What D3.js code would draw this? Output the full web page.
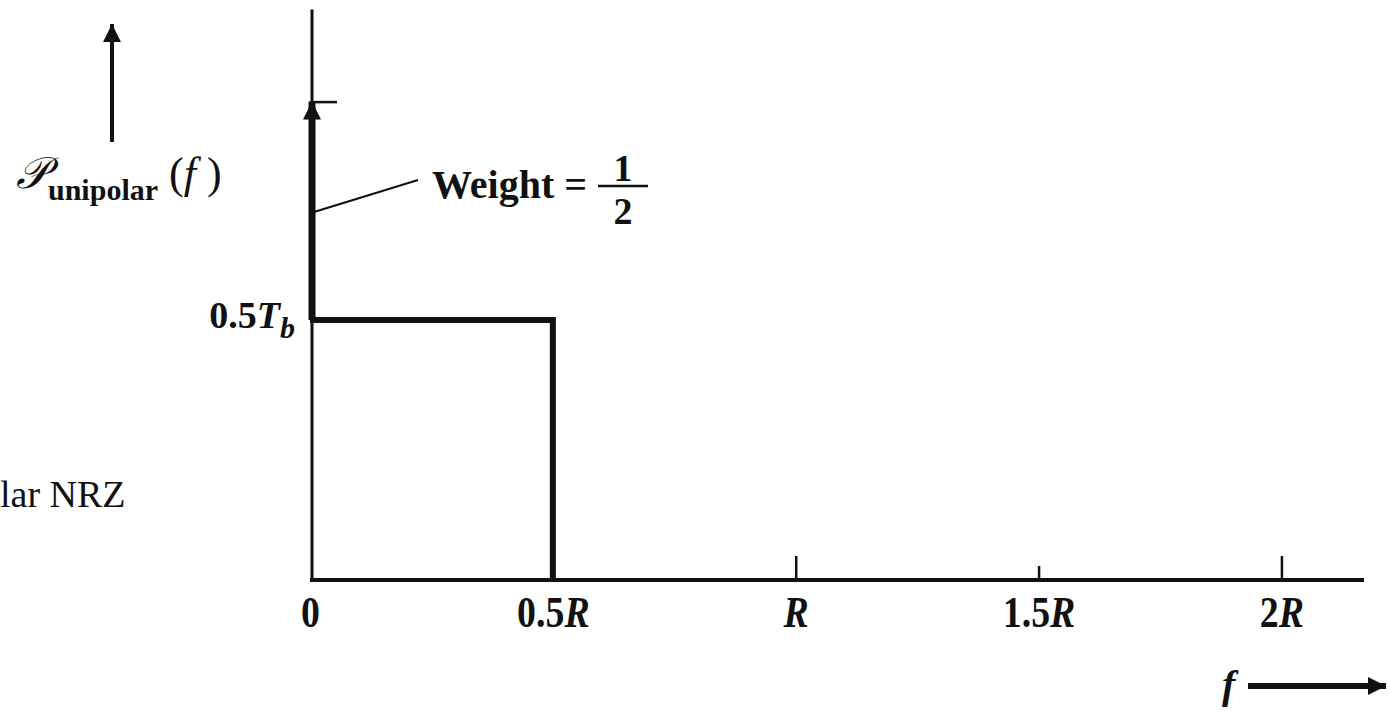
<!DOCTYPE html>
<html>
<head>
<meta charset="utf-8">
<script src="https://cdn.jsdelivr.net/npm/d3@7"></script>
<style>
  html, body { margin: 0; padding: 0; background: #fff; }
  svg { display: block; }
  text { font-family: "Liberation Serif", "DejaVu Serif", serif; fill: #111; }
</style>
</head>
<body>
<div id="chart"></div>
<script>
// Unipolar NRZ PSD sketch

// Data
const freqTicks = [0, 0.5, 1, 1.5, 2];
const freqLabels = ["0", "0.5R", "R", "1.5R", "2R"];
const psdFreq = [0, 0.5, 0.5];          // continuous part: rectangle up to 0.5R
const psdLevel = [0.5, 0.5, 0];         // height 0.5 T_b
const impulseFreq = [0];
const impulseTop = [0.92];              // drawn height of the delta arrow
const impulseWeight = ["1", "2"];       // weight = 1/2

const width = 1390, height = 711;

const svg = d3.select("#chart")
  .append("svg")
  .attr("width", width)
  .attr("height", height);

// Scales
const xScale = d3.scaleLinear()
  .domain([0, 2.17])
  .range([310, 1364]);

const yScale = d3.scaleLinear()
  .domain([0, 0.5])
  .range([580, 320]);

// Arrowhead marker
const defs = svg.append("defs");
defs.append("marker")
  .attr("id", "head")
  .attr("viewBox", "0 0 10 10")
  .attr("refX", 10)
  .attr("refY", 5)
  .attr("markerUnits", "userSpaceOnUse")
  .attr("markerWidth", 40)
  .attr("markerHeight", 18)
  .attr("orient", "auto")
  .append("path")
  .attr("d", "M0,0 L10,5 L0,10 Z")
  .attr("fill", "#111");

// y axis line
svg.append("line")
  .attr("x1", xScale(0) + 2).attr("x2", xScale(0) + 2)
  .attr("y1", yScale(1.097)).attr("y2", yScale(0))
  .attr("stroke", "#111")
  .attr("stroke-width", 3);

// small tick at impulse level
const yAxis = d3.axisRight(yScale)
  .tickValues(impulseTop)
  .tickSize(25)
  .tickFormat("");

svg.append("g")
  .attr("transform", `translate(${xScale(0) + 2},0)`)
  .call(yAxis)
  .call(g => g.select(".domain").remove())
  .call(g => g.selectAll(".tick line").attr("stroke", "#111").attr("stroke-width", 2.5));

// x axis
const xAxis = d3.axisBottom(xScale)
  .tickValues(freqTicks)
  .tickSize(-24)
  .tickPadding(16)
  .tickFormat((d, i) => freqLabels[i]);

const gx = svg.append("g")
  .attr("transform", `translate(0,${yScale(0)})`)
  .call(xAxis);

gx.select(".domain")
  .attr("stroke", "#111")
  .attr("stroke-width", 4)
  .attr("d", `M${xScale(0)},0H${xScale(2.17)}`);

gx.selectAll(".tick line")
  .attr("stroke", "#111")
  .attr("stroke-width", 2.5)
  .attr("y2", d => d === 1.5 ? -14 : -24)
  .attr("opacity", d => d === 0 ? 0 : 1);

// tall, narrow labels like the scanned figure
gx.selectAll(".tick text")
  .attr("font-size", 44)
  .attr("font-weight", "bold")
  .attr("font-family", "Liberation Serif, serif")
  .attr("fill", "#111")
  .attr("dy", "0.71em")
  .attr("transform", "scale(0.86,1)")
  .each(function(d, i) {
    const t = d3.select(this);
    const lab = freqLabels[i];
    t.text(null);
    const num = lab.replace("R", "");
    if (num) t.append("tspan").text(num);
    if (lab.includes("R")) t.append("tspan").attr("font-style", "italic").text("R");
  });

// continuous part (rectangle)
const psd = psdFreq.map((f, i) => ({ f, p: psdLevel[i] }));
svg.append("path")
  .datum(psd)
  .attr("fill", "none")
  .attr("stroke", "#111")
  .attr("stroke-width", 6)
  .attr("stroke-linejoin", "miter")
  .attr("d", d3.line().x(d => xScale(d.f)).y(d => yScale(d.p)));

// impulse at f = 0
svg.selectAll(".impulse")
  .data(impulseFreq)
  .join("line")
  .attr("class", "impulse")
  .attr("x1", d => xScale(d) + 2).attr("x2", d => xScale(d) + 2)
  .attr("y1", yScale(0.5))
  .attr("y2", (d, i) => yScale(impulseTop[i]))
  .attr("stroke", "#111")
  .attr("stroke-width", 7)
  .attr("marker-end", "url(#head)");

// leader line to weight label
svg.append("line")
  .attr("x1", xScale(0) + 4).attr("y1", 212)
  .attr("x2", 418).attr("y2", 180)
  .attr("stroke", "#111")
  .attr("stroke-width", 2);

const wt = svg.append("g");
wt.append("text")
  .attr("x", 432).attr("y", 198)
  .attr("font-size", 40)
  .attr("font-weight", "bold")
  .text("Weight =");
wt.append("text")
  .attr("x", 623).attr("y", 181)
  .attr("text-anchor", "middle")
  .attr("font-size", 38)
  .attr("font-weight", "bold")
  .text(impulseWeight[0]);
wt.append("line")
  .attr("x1", 598).attr("x2", 648)
  .attr("y1", 186).attr("y2", 186)
  .attr("stroke", "#111").attr("stroke-width", 2.5);
wt.append("text")
  .attr("x", 623).attr("y", 224)
  .attr("text-anchor", "middle")
  .attr("font-size", 38)
  .attr("font-weight", "bold")
  .text(impulseWeight[1]);

// 0.5 T_b label
const tb = svg.append("text")
  .attr("x", xScale(0) - 15)
  .attr("y", yScale(0.5) + 8)
  .attr("text-anchor", "end")
  .attr("font-weight", "bold")
  .attr("font-size", 38);
tb.append("tspan").text("0.5");
tb.append("tspan").attr("font-style", "italic").text("T");
tb.append("tspan").attr("font-style", "italic").attr("font-size", 30).attr("dy", 10).text("b");

// y label with arrow
svg.append("line")
  .attr("x1", 112).attr("x2", 112)
  .attr("y1", 142).attr("y2", 24)
  .attr("stroke", "#111")
  .attr("stroke-width", 4)
  .attr("marker-end", "url(#head)");

const yl = svg.append("text")
  .attr("x", 16).attr("y", 188)
  .attr("font-size", 44);
yl.append("tspan").attr("font-style", "italic").text("𝒫");
yl.append("tspan").attr("font-size", 30).attr("font-weight", "bold").attr("dy", 12).text("unipolar");
yl.append("tspan").attr("dy", -12).text(" (");
yl.append("tspan").attr("font-style", "italic").text("f");
yl.append("tspan").text(" )");

// cut-off caption at left edge
svg.append("text")
  .attr("x", 0).attr("y", 507)
  .attr("font-size", 38)
  .text("lar NRZ");

// f arrow bottom right
svg.append("text")
  .attr("x", 1222).attr("y", 698)
  .attr("font-size", 40)
  .attr("font-style", "italic")
  .attr("font-weight", "bold")
  .text("f");
svg.append("line")
  .attr("x1", 1248).attr("x2", 1386)
  .attr("y1", 686).attr("y2", 686)
  .attr("stroke", "#111")
  .attr("stroke-width", 6)
  .attr("marker-end", "url(#head)");
</script>
</body>
</html>
